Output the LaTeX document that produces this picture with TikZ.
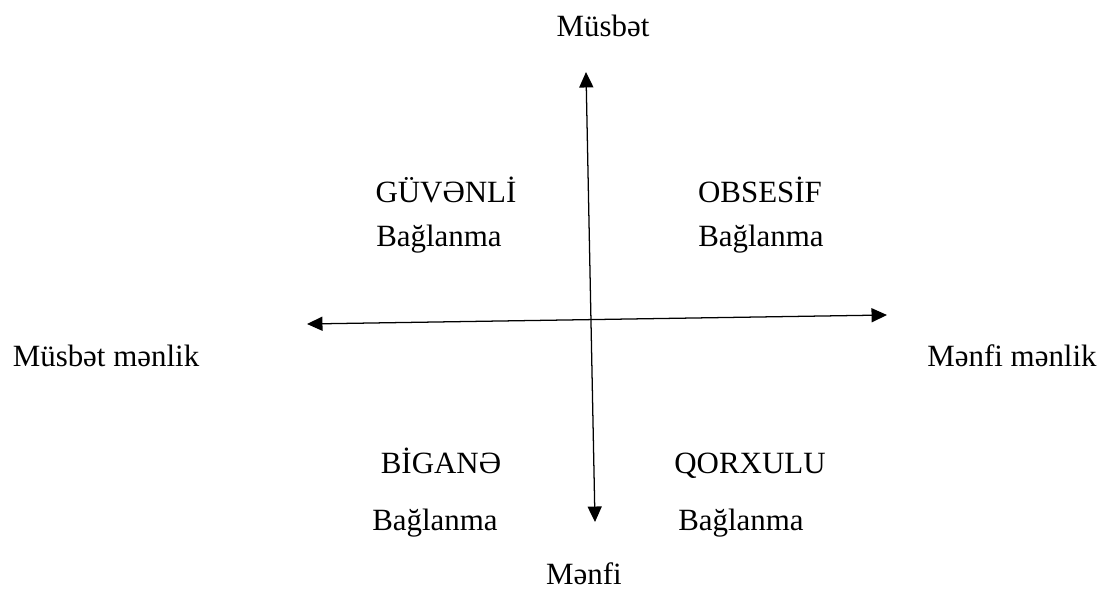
\documentclass[tikz,border=0pt]{standalone}
\usepackage{fontspec}
\setmainfont{Liberation Serif}
\usetikzlibrary{positioning,arrows.meta}

\begin{document}
\begin{tikzpicture}[
    every node/.style={font=\fontsize{22}{26}\selectfont, inner sep=0pt},
    lbl/.style={align=center, anchor=base},
    arr/.style={{Triangle[length=11pt,width=10pt]}-{Triangle[length=11pt,width=10pt]}, line width=0.9pt},
]
\useasboundingbox (0,0) rectangle (27.675,14.8);
% axis ends
\coordinate (up)    at (14.65, 13.0);
\coordinate (down)  at (14.875, 1.75);
\coordinate (left)  at (7.675, 6.7);
\coordinate (right) at (22.175, 6.925);
% axis labels
\node[lbl] (pos)   at (15.075, 13.875) {Müsbət};
\node[lbl] (neg)   at (14.6, 0.2)      {Mənfi};
\node[lbl] (pself) at (2.65, 5.625)    {Müsbət mənlik};
\node[lbl] (nself) at (25.3, 5.625)    {Mənfi mənlik};
% quadrants
\node[lbl] (sec)  at (11.15, 9.7375)  {GÜVƏNLİ};
\node[lbl] (secb) at (10.975, 8.625)  {Bağlanma};
\node[lbl] (obs)  at (19.0, 9.7375)   {OBSESİF};
\node[lbl] (obsb) at (19.025, 8.625)  {Bağlanma};
\node[lbl] (ind)  at (11.025, 2.9625) {BİGANƏ};
\node[lbl] (indb) at (10.875, 1.55)   {Bağlanma};
\node[lbl] (fea)  at (18.75, 2.9625)  {QORXULU};
\node[lbl] (feab) at (18.525, 1.55)   {Bağlanma};
\draw[arr] (up) -- (down);
\draw[arr] (left) -- (right);
\end{tikzpicture}
\end{document}
